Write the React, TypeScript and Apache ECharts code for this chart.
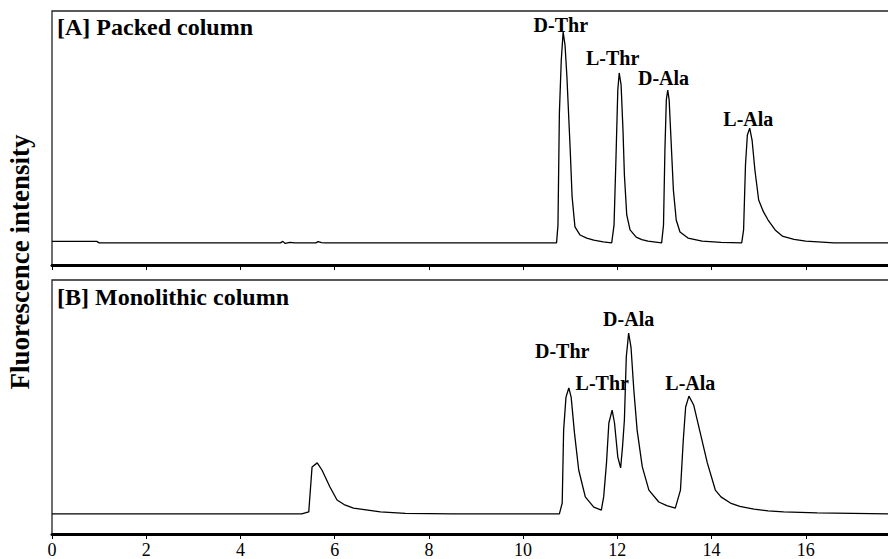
import React, { useEffect, useRef } from "react";
import * as echarts from "echarts";

const FONT = '"Liberation Serif", "Times New Roman", serif';

// Time axis (min)
const xTicks = [0, 2, 4, 6, 8, 10, 12, 14, 16];

// Panel A: packed column (time, intensity)
const timeA = [
  0, 0.95, 1.0, 4.85, 4.9, 4.95, 5.05, 5.15, 5.6, 5.65, 5.72, 5.8, 10.71,
  10.74, 10.77, 10.81, 10.85, 10.89, 10.93, 11.0, 11.04, 11.1, 11.21, 11.35, 11.5, 11.7, 11.88,
  11.93, 11.97, 12.01, 12.04, 12.08, 12.12, 12.15, 12.2, 12.27, 12.4, 12.52, 12.65, 12.94,
  12.98, 13.01, 13.04, 13.07, 13.1, 13.14, 13.19, 13.25, 13.33, 13.5, 13.8, 14.2, 14.64,
  14.68, 14.72, 14.76, 14.81, 14.86, 14.92, 15.0, 15.1, 15.2, 15.35, 15.5, 15.75, 16.0, 16.6, 18,
];
const intensityA = [
  9.3, 9.3, 8.7, 8.7, 9.3, 8.5, 8.9, 8.7, 8.7, 9.2, 8.8, 8.7, 8.7,
  15.7, 59.8, 80.7, 91.7, 86.6, 74.0, 45.3, 26.8, 15.0, 11.8, 10.6, 9.8, 9.1, 8.7,
  15.7, 41.3, 68.9, 75.6, 70.9, 53.1, 35.4, 19.7, 13.8, 11.0, 10.0, 9.4, 8.7,
  15.7, 45.3, 65.0, 68.9, 65.0, 49.2, 29.5, 17.7, 13.0, 10.6, 9.4, 8.9, 8.7,
  13.8, 39.4, 51.2, 53.9, 49.2, 37.4, 25.6, 21.0, 17.7, 13.8, 11.4, 10.1, 9.4, 8.7, 8.7,
];

// Panel B: monolithic column (time, intensity)
const timeB = [
  0, 5.3, 5.45, 5.52, 5.63, 5.73, 5.9, 6.05, 6.2, 6.4, 6.97, 7.5, 8.5, 10.77,
  10.83, 10.86, 10.91, 10.97, 11.02, 11.09, 11.18, 11.32, 11.5, 11.66,
  11.71, 11.77, 11.82, 11.89, 11.94, 12.01, 12.07,
  12.11, 12.15, 12.19, 12.24, 12.29, 12.35, 12.42, 12.53, 12.67, 12.88, 13.05, 13.23,
  13.34, 13.4, 13.45, 13.52, 13.62, 13.76, 13.91, 14.08, 14.2, 14.4, 14.6, 14.9, 15.2, 15.53, 16.24, 18,
];
const intensityB = [
  7.9, 7.9, 8.7, 26.4, 28.0, 25.2, 18.5, 13.4, 11.6, 10.2, 8.7, 8.1, 7.9, 7.9,
  12.2, 40.9, 53.9, 57.5, 53.9, 39.8, 25.2, 14.6, 10.6, 9.4,
  14.6, 28.0, 43.7, 48.8, 43.7, 30.3, 26.0,
  34.3, 44.9, 69.7, 79.1, 73.6, 56.7, 40.9, 26.4, 17.3, 12.6, 11.2, 10.2,
  17.3, 37.0, 50.0, 54.3, 50.8, 39.8, 28.0, 17.3, 14.6, 12.2, 10.9, 9.8, 9.1, 8.7, 8.3, 7.9,
];

// Peak labels: name, time, intensity (label anchor)
const peakNames = ["D-Thr", "L-Thr", "D-Ala", "L-Ala"];
const labelTimeA = [10.8, 11.9, 12.98, 14.78];
const labelIntA = [94.5, 81.5, 73.6, 57.5];
const labelTimeB = [10.83, 11.68, 12.24, 13.55];
const labelIntB = [72.0, 59.4, 84.6, 59.4];

const panelTitles = ["[A] Packed column", "[B] Monolithic column"];
const yAxisTitle = "Fluorescence intensity";

function pairs(t: number[], v: number[]) {
  return t.map((x, i) => [x, v[i]]);
}

function marks(t: number[], v: number[]) {
  return peakNames.map((n, i) => ({ name: n, coord: [t[i], v[i]] }));
}

export default function App() {
  const ref = useRef<HTMLDivElement>(null);
  useEffect(() => {
    if (!ref.current) return;
    const chart = echarts.init(ref.current, null, { renderer: "svg" });
    const gridCommon = {
      left: 52,
      width: 848,
      height: 254,
      show: true,
      borderColor: "#222",
      borderWidth: 1.3,
      backgroundColor: "transparent",
      containLabel: false,
      outerBoundsMode: "none",
    };
    const xCommon = {
      type: "value" as const,
      min: 0,
      max: 18,
      interval: 2,
      splitLine: { show: false },
      axisLine: { show: true, onZero: false, lineStyle: { color: "#000", width: 3 } },
      axisTick: { show: true, inside: false, length: 5, lineStyle: { color: "#000", width: 1 } },
    };
    const yCommon = {
      type: "value" as const,
      min: 0,
      max: 100,
      show: false,
      splitLine: { show: false },
    };
    const markCommon = {
      symbol: "circle",
      symbolSize: 0,
      itemStyle: { color: "transparent" },
      label: {
        show: true,
        position: "inside",
        formatter: (p: any) => p.name,
        color: "#000",
        fontFamily: FONT,
        fontWeight: "bold",
        fontSize: 20,
      },
    };
    chart.setOption({
      animation: false,
      grid: [
        { ...gridCommon, top: 11 },
        { ...gridCommon, top: 280 },
      ],
      xAxis: [
        { ...xCommon, gridIndex: 0, axisLabel: { show: false } },
        {
          ...xCommon,
          gridIndex: 1,
          axisLabel: {
            show: true,
            color: "#000",
            fontFamily: FONT,
            fontSize: 18,
            margin: 7,
            formatter: (v: number) => (xTicks.includes(v) ? String(v) : ""),
          },
        },
      ],
      yAxis: [
        { ...yCommon, gridIndex: 0 },
        { ...yCommon, gridIndex: 1 },
      ],
      series: [
        {
          type: "line",
          xAxisIndex: 0,
          yAxisIndex: 0,
          data: pairs(timeA, intensityA),
          symbol: "none",
          lineStyle: { color: "#000", width: 1.3 },
          markPoint: { ...markCommon, data: marks(labelTimeA, labelIntA) },
        },
        {
          type: "line",
          xAxisIndex: 1,
          yAxisIndex: 1,
          data: pairs(timeB, intensityB),
          symbol: "none",
          lineStyle: { color: "#000", width: 1.3 },
          markPoint: { ...markCommon, data: marks(labelTimeB, labelIntB) },
        },
      ],
      graphic: [
        {
          type: "text",
          left: 57,
          top: 15,
          style: { text: panelTitles[0], fontFamily: FONT, fontWeight: "bold", fontSize: 24, fill: "#000" },
        },
        {
          type: "text",
          left: 57,
          top: 285,
          style: { text: panelTitles[1], fontFamily: FONT, fontWeight: "bold", fontSize: 24, fill: "#000" },
        },
        {
          type: "text",
          x: 20,
          y: 262,
          rotation: Math.PI / 2,
          style: {
            text: yAxisTitle,
            fontFamily: FONT,
            fontWeight: "bold",
            fontSize: 27,
            fill: "#000",
            align: "center",
            verticalAlign: "middle",
          },
        },
      ],
    });
    return () => chart.dispose();
  }, []);
  return (
    <div
      ref={ref}
      style={{ position: "absolute", left: 0, top: 0, width: 888, height: 559, background: "#fff" }}
    />
  );
}
